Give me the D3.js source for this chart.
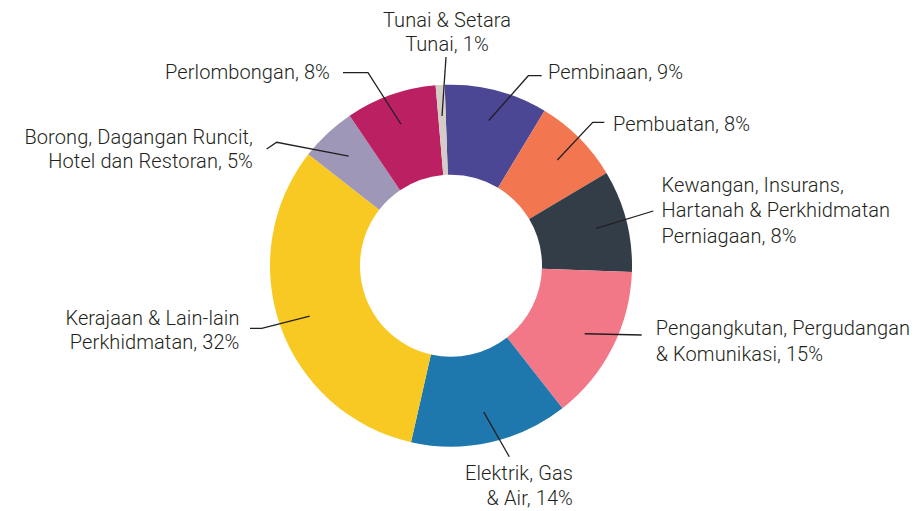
<!DOCTYPE html>
<html>
<head>
<meta charset="utf-8">
<script src="https://cdn.jsdelivr.net/npm/d3@7"></script>
<style>
  html, body { margin: 0; padding: 0; background: #ffffff; }
  svg { display: block; }
  text { font-family: Roboto, "DejaVu Sans", sans-serif; font-size: 20px; font-weight: 300; letter-spacing: 0.1px; fill: #231f20; }
</style>
</head>
<body>
<svg id="chart" width="918" height="511"></svg>
<script>
// ---- data ----
const categories = [
  "Pembinaan", "Pembuatan", "Kewangan, Insurans, Hartanah & Perkhidmatan Perniagaan",
  "Pengangkutan, Pergudangan & Komunikasi", "Elektrik, Gas & Air",
  "Kerajaan & Lain-lain Perkhidmatan", "Borong, Dagangan Runcit, Hotel dan Restoran",
  "Perlombongan", "Tunai & Setara Tunai"
];
const values = [9.2, 7.8, 9.1, 13.9, 14.1, 32.0, 5.0, 8.1, 0.8];
const colors = ["#4b4794", "#f27751", "#333d48", "#f27887", "#1f78ad", "#f7c922", "#9f97b8", "#bb2063", "#d4ccc7"];
const labelLines = [
  ["Pembinaan, 9%"],
  ["Pembuatan, 8%"],
  ["Kewangan, Insurans,", "Hartanah & Perkhidmatan", "Perniagaan, 8%"],
  ["Pengangkutan, Pergudangan", "& Komunikasi, 15%"],
  ["Elektrik, Gas", "& Air, 14%"],
  ["Kerajaan & Lain-lain", "Perkhidmatan, 32%"],
  ["Borong, Dagangan Runcit,", "Hotel dan Restoran, 5%"],
  ["Perlombongan, 8%"],
  ["Tunai & Setara", "Tunai, 1%"]
];

// ---- layout (label placement) ----
const cx = 451, cy = 265.7, outerR = 181, innerR = 91, leaderR = 150;
const startDeg = -2;
const labelLayout = [
  { x: 548,   y: 79.3,  anchor: "start",  lh: 24,   leader: [[541.7, 75.7], [528.3, 75.7]] },
  { x: 613,   y: 130.7, anchor: "start",  lh: 24,   leader: [[604.3, 122.3], [592.7, 122.3]] },
  { x: 661.5, y: 191.5, anchor: "start",  lh: 25.5, leader: [[653.3, 211]] },
  { x: 655.7, y: 335,   anchor: "start",  lh: 25.5, leader: [[641.7, 335]] },
  { x: 573,   y: 480,   anchor: "end",    lh: 25,   leader: [[509.3, 456.7]] },
  { x: 239.5, y: 325,   anchor: "end",    lh: 24,   leader: [[250, 328.3], [261.7, 328.3]] },
  { x: 253,   y: 144,   anchor: "end",    lh: 24.3, leader: [[266.7, 149], [276.7, 142.3]] },
  { x: 330,   y: 79.3,  anchor: "end",    lh: 24,   leader: [[343, 72.7], [368, 72.7]] },
  { x: 447,   y: 26.7,  anchor: "middle", lh: 24,   leader: [[446, 57]] }
];

const svg = d3.select("#chart");
const g = svg.append("g").attr("transform", `translate(${cx},${cy})`);

const rad = d => d * Math.PI / 180;
const pie = d3.pie().sort(null).value(d => d)
  .startAngle(rad(startDeg)).endAngle(rad(startDeg + 360));
const arcs = pie(values);

const arc = d3.arc().innerRadius(innerR).outerRadius(outerR);
const leaderArc = d3.arc().innerRadius(leaderR).outerRadius(leaderR);

g.selectAll("path.slice")
  .data(arcs)
  .join("path")
  .attr("class", "slice")
  .attr("d", arc)
  .attr("fill", (d, i) => colors[i]);

// leader lines
const line = d3.line();
svg.selectAll("path.leader")
  .data(arcs)
  .join("path")
  .attr("class", "leader")
  .attr("d", (d, i) => {
    const c = leaderArc.centroid(d);
    const pts = labelLayout[i].leader.concat([[c[0] + cx, c[1] + cy]]);
    return line(pts);
  })
  .attr("fill", "none")
  .attr("stroke", "#231f20")
  .attr("stroke-width", 1.3);

// labels
svg.selectAll("text.lbl")
  .data(labelLines)
  .join("text")
  .attr("class", "lbl")
  .attr("text-anchor", (d, i) => labelLayout[i].anchor)
  .each(function (lines, i) {
    const L = labelLayout[i];
    d3.select(this).selectAll("tspan")
      .data(lines)
      .join("tspan")
      .attr("x", L.x)
      .attr("y", (s, j) => L.y + j * L.lh)
      .text(s => s);
  });
</script>
</body>
</html>
